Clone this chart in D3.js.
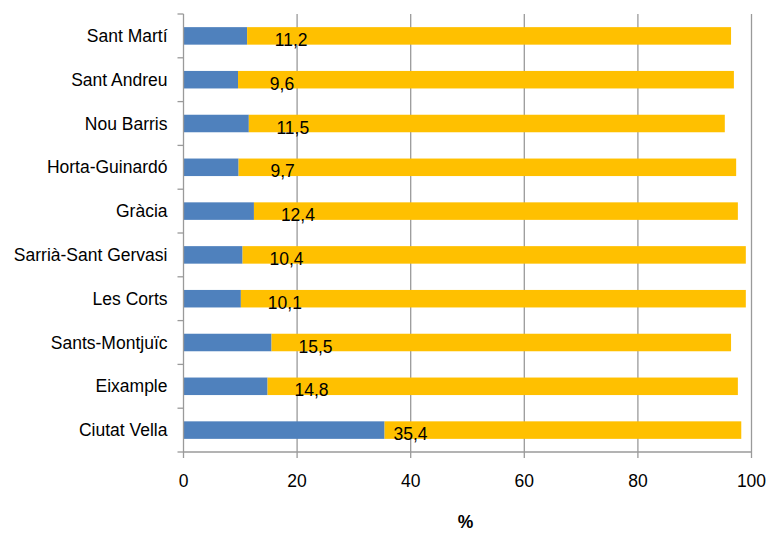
<!DOCTYPE html>
<html><head><meta charset="utf-8">
<script src="https://cdn.jsdelivr.net/npm/d3@7"></script>
<style>body{margin:0;background:#fff}svg{display:block}text{font-family:"Liberation Sans",Arial,sans-serif}</style>
</head><body><svg id="c" width="767" height="534"></svg>
<script>
const categories = ["Sant Martí","Sant Andreu","Nou Barris","Horta-Guinardó","Gràcia","Sarrià-Sant Gervasi","Les Corts","Sants-Montjuïc","Eixample","Ciutat Vella"];
const blueValues = [11.2,9.6,11.5,9.7,12.4,10.4,10.1,15.5,14.8,35.4];
const yellowValues = [85.2,87.3,83.8,87.6,85.2,88.6,88.9,80.9,82.8,62.8];
const labels = ["11,2","9,6","11,5","9,7","12,4","10,4","10,1","15,5","14,8","35,4"];
const xTicks = [0,20,40,60,80,100];

const svg = d3.select("#c");
const L = 183.5, R = 751.5, T = 14, B = 452;
const x = d3.scaleLinear().domain([0,100]).range([L,R]);
const y = d3.scaleBand().domain(categories).range([T,B]).paddingInner(0.6).paddingOuter(0.3);
const yb = d3.scaleBand().domain(categories).range([T,B]);
const fs = 17.5;

// gridlines
svg.append("g").selectAll("line").data(xTicks.slice(1)).join("line")
  .attr("x1",d=>x(d)).attr("x2",d=>x(d)).attr("y1",T).attr("y2",B)
  .attr("stroke","#9a9a9a").attr("stroke-width",1.3);

// bars
const g = svg.append("g");
g.selectAll("rect.b").data(categories).join("rect").attr("class","b")
  .attr("x",x(0)).attr("y",d=>y(d)).attr("height",y.bandwidth())
  .attr("width",(d,i)=>x(blueValues[i])-x(0)).attr("fill","#4F81BD");
g.selectAll("rect.y").data(categories).join("rect").attr("class","y")
  .attr("x",(d,i)=>x(blueValues[i])).attr("y",d=>y(d)).attr("height",y.bandwidth())
  .attr("width",(d,i)=>x(blueValues[i]+yellowValues[i])-x(blueValues[i])).attr("fill","#FFC000");

// labels
g.selectAll("text.l").data(categories).join("text").attr("class","l")
  .attr("x",(d,i)=>x(blueValues[i]) + (blueValues[i]>30?26:44))
  .attr("y",d=>y(d)+y.bandwidth()/2+10)
  .attr("text-anchor","middle").attr("font-size",fs).attr("fill","#000")
  .text((d,i)=>labels[i]);

// left axis
const ax = svg.append("g");
ax.append("line").attr("x1",L).attr("x2",L).attr("y1",T).attr("y2",B).attr("stroke","#9a9a9a").attr("stroke-width",1.3);
ax.selectAll("line.t").data(categories.concat(["_end"])).join("line").attr("class","t")
  .attr("x1",L-6).attr("x2",L).attr("y1",(d,i)=>T+i*yb.bandwidth()).attr("y2",(d,i)=>T+i*yb.bandwidth())
  .attr("stroke","#9a9a9a").attr("stroke-width",1.3);
ax.selectAll("text").data(categories).join("text")
  .attr("x",L-16).attr("y",d=>yb(d)+yb.bandwidth()/2+6)
  .attr("text-anchor","end").attr("font-size",fs).attr("fill","#000").text(d=>d);

// bottom axis
const bx = svg.append("g");
bx.append("line").attr("x1",L).attr("x2",R).attr("y1",B).attr("y2",B).attr("stroke","#9a9a9a").attr("stroke-width",1.3);
bx.selectAll("line.t").data(xTicks).join("line").attr("class","t")
  .attr("x1",d=>x(d)).attr("x2",d=>x(d)).attr("y1",B).attr("y2",B+6)
  .attr("stroke","#9a9a9a").attr("stroke-width",1.3);
bx.selectAll("text").data(xTicks).join("text")
  .attr("x",d=>x(d)).attr("y",B+35).attr("text-anchor","middle").attr("font-size",fs).attr("fill","#000").text(d=>d);
svg.append("text").attr("x",(L+R)/2-2).attr("y",528).attr("text-anchor","middle")
  .attr("font-size",fs).attr("font-weight","bold").text("%");
</script></body></html>
